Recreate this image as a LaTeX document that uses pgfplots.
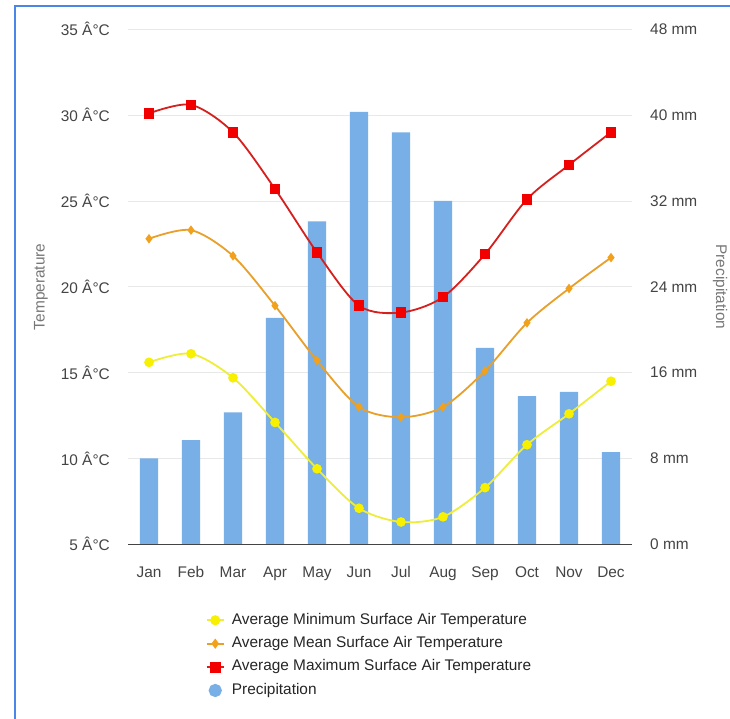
\documentclass[border=0pt]{standalone}
\usepackage{fontspec}
\setmainfont{Liberation Sans}
\usepackage{pgfplots}
\pgfplotsset{compat=1.18}
\definecolor{barcol}{HTML}{78AFE6}
\definecolor{redline}{HTML}{D6201E}
\definecolor{redmark}{HTML}{F20000}
\definecolor{orangeline}{HTML}{E9A02A}
\definecolor{orangemark}{HTML}{F2A11C}
\definecolor{yellowline}{HTML}{EEEE3A}
\definecolor{yellowmark}{HTML}{F7F000}
\definecolor{gridcol}{HTML}{E8E8E8}
\definecolor{ticklab}{HTML}{444444}
\definecolor{titlecol}{HTML}{777777}
\definecolor{framecol}{HTML}{4A86E8}
\begin{document}
\begin{tikzpicture}
\path[use as bounding box] (0pt,0pt) rectangle (730pt,719pt);
\fill[white] (0pt,0pt) rectangle (730pt,719pt);
\draw[framecol, line width=1.6pt] (15pt,0pt) -- (15pt,713pt) -- (730pt,713pt);
% precipitation bars (right axis)
\begin{axis}[
  at={(128pt,174.7pt)}, anchor=south west,
  scale only axis, width=504pt, height=515pt,
  xmin=-0.5, xmax=11.5, ymin=0, ymax=48,
  ybar, bar width=0.44,
  axis x line=none,
  axis y line*=right, y axis line style={draw=none},
  ytick={0,8,16,24,32,40,48},
  yticklabels={0 mm,8 mm,16 mm,24 mm,32 mm,40 mm,48 mm},
  major tick length=0pt,
  ymajorgrids, grid style={gridcol, line width=0.9pt},
  yticklabel style={font=\fontsize{15.4}{18}\selectfont, text=ticklab, inner sep=0pt, anchor=west},
  yticklabel shift=18pt,
  ylabel={Precipitation},
  ylabel style={at={(axis description cs:1.1746,0.5)}, rotate=180, anchor=center, font=\fontsize{15.4}{18}\selectfont, text=titlecol},
]
\addplot[fill=barcol, draw=none] coordinates {
(0,8.0) (1,9.7) (2,12.3) (3,21.1) (4,30.1) (5,40.3)
(6,38.4) (7,32.0) (8,18.3) (9,13.8) (10,14.2) (11,8.6)};
\end{axis}
% temperature lines (left axis)
\begin{axis}[
  at={(128pt,174.7pt)}, anchor=south west,
  scale only axis, width=504pt, height=515pt,
  xmin=-0.5, xmax=11.5, ymin=5, ymax=35,
  axis x line*=bottom, x axis line style={draw=ticklab, line width=1.1pt, -},
  axis y line*=left, y axis line style={draw=none},
  xtick={0,...,11},
  xticklabels={Jan,Feb,Mar,Apr,May,Jun,Jul,Aug,Sep,Oct,Nov,Dec},
  ytick={5,10,15,20,25,30,35},
  yticklabels={5 Â°C,10 Â°C,15 Â°C,20 Â°C,25 Â°C,30 Â°C,35 Â°C},
  major tick length=0pt,
  xticklabel style={font=\fontsize{15.4}{18}\selectfont, text=ticklab, inner sep=0pt, anchor=north, text height=11pt, text depth=3pt},
  xticklabel shift=22.4pt,
  yticklabel style={font=\fontsize{15.4}{18}\selectfont, text=ticklab, inner sep=0pt, anchor=east},
  yticklabel shift=18pt,
  ylabel={Temperature},
  ylabel style={at={(axis description cs:-0.1726,0.5)}, anchor=center, font=\fontsize{15.4}{18}\selectfont, text=titlecol},
  clip=false,
  every legend image post/.append style={line width=2.2pt},
  legend style={at={(axis description cs:0.1540,-0.1315)}, anchor=north west,
    draw=none, fill=none, inner sep=0pt, outer sep=0pt,
    font=\fontsize{15.4}{18}\selectfont, text=black!85,
    row sep=6.9pt,
    nodes={text height=11pt, text depth=3.5pt, inner sep=1pt},
    /tikz/every odd column/.append style={column sep=6pt}},
  legend cell align=left,
]
\addplot[smooth, tension=0.5, color=yellowline, line width=1.8pt, mark=*, mark size=3.9pt, mark options={fill=yellowmark, draw=yellowmark}] coordinates {
(0,15.6) (1,16.1) (2,14.7) (3,12.1) (4,9.4) (5,7.1)
(6,6.3) (7,6.6) (8,8.3) (9,10.8) (10,12.6) (11,14.5)};
\addlegendentry{Average Minimum Surface Air Temperature}
\addplot[smooth, tension=0.5, color=orangeline, line width=1.8pt, mark=diamond*, mark size=3.3pt, mark options={fill=orangemark, draw=orangemark}] coordinates {
(0,22.8) (1,23.3) (2,21.8) (3,18.9) (4,15.7) (5,13.0)
(6,12.4) (7,13.0) (8,15.1) (9,17.9) (10,19.9) (11,21.7)};
\addlegendentry{Average Mean Surface Air Temperature}
\addplot[smooth, tension=0.5, color=redline, line width=1.8pt, mark=square*, mark size=4.4pt, mark options={fill=redmark, draw=redmark}] coordinates {
(0,30.1) (1,30.6) (2,29.0) (3,25.7) (4,22.0) (5,18.9)
(6,18.5) (7,19.4) (8,21.9) (9,25.1) (10,27.1) (11,29.0)};
\addlegendentry{Average Maximum Surface Air Temperature}
\addlegendimage{only marks, mark=*, mark size=5.5pt, color=barcol, line width=0.4pt}
\addlegendentry{Precipitation}
\end{axis}
\end{tikzpicture}
\end{document}
